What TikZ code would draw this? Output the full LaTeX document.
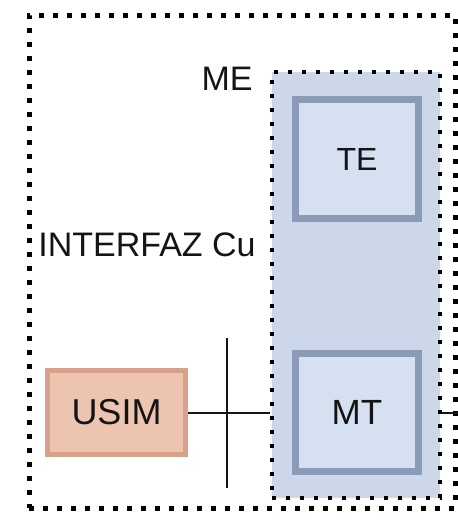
\documentclass[tikz,border=0pt]{standalone}
\usepackage{fontspec}
\setmainfont{Liberation Sans}
\usepackage{tikz}
\usetikzlibrary{positioning, calc}
\definecolor{MeFill}{HTML}{CCD8EA}
\definecolor{BoxFill}{HTML}{D5E0F1}
\definecolor{BoxLine}{HTML}{8A9BB7}
\definecolor{SimFill}{HTML}{ECC4AF}
\definecolor{SimLine}{HTML}{D8A18A}
\definecolor{Ink}{HTML}{141414}
\tikzset{
  dotframe/.style={draw=black, line width=2.5pt, dash pattern=on 2.5pt off 4.5pt},
  mebox/.style={draw=black, line width=2.2pt, dash pattern=on 2.2pt off 4.8pt, fill=MeFill},
  unitbox/.style={draw=BoxLine, line width=3.5pt, fill=BoxFill, text=Ink,
                  minimum width=61.5pt, minimum height=59.5pt, inner sep=0pt},
  simbox/.style={draw=SimLine, line width=2.5pt, fill=SimFill, text=Ink,
                 minimum width=69pt, minimum height=42pt, inner sep=0pt},
  lbl/.style={text=Ink, inner sep=0pt}
}

\begin{document}
\begin{tikzpicture}[x=0.5pt, y=-0.5pt]
  \useasboundingbox (0,0) rectangle (457,520);
  % outer frame and ME
  \node[dotframe, minimum width=213pt, minimum height=246.5pt, inner sep=0pt] (ue) at (242,261.5) {};
  \node[mebox, minimum width=84pt, minimum height=213pt, inner sep=0pt] (me) at (356,285) {};
  % units
  \node[unitbox] (te) at (357,159) {\fontsize{16pt}{19pt}\selectfont TE};
  \node[unitbox, minimum height=59pt] (mt) at (357,412.5) {\fontsize{17.5pt}{20pt}\selectfont MT};
  \node[simbox] (usim) at (116.5,412.5) {\fontsize{18pt}{21pt}\selectfont USIM};
  % labels
  \node[lbl, anchor=base east] (melbl) at (253,90) {\fontsize{17pt}{20pt}\selectfont ME};
  \node[lbl, anchor=base east] (cu) at (256,256) {\fontsize{17pt}{20pt}\selectfont INTERFAZ Cu};
  % links
  \coordinate (cutop) at (227,338);
  \coordinate (cubot) at (227,488);
  \draw[line width=1pt, Ink] (usim.east) -- (me.west |- usim.east);
  \draw[line width=1pt, Ink] (cutop) -- (cubot);
  \draw[line width=1pt, Ink] (me.east |- mt) -- (ue.east |- mt);
\end{tikzpicture}
\end{document}
